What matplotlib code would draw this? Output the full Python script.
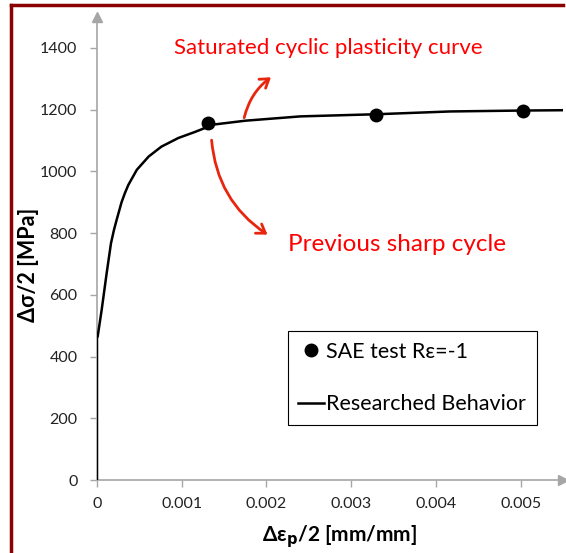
import matplotlib.pyplot as plt
from matplotlib.patches import FancyArrowPatch
from matplotlib.lines import Line2D

# SAE test points
sae_x = [0.00131, 0.00329, 0.00503]
sae_y = [1157, 1184, 1196]

# researched behaviour curve
curve_x = [0.0, 0.0, 0.000008, 0.000055, 0.000114, 0.000165, 0.000200, 0.000232, 0.00029,
           0.00033, 0.00037, 0.00047, 0.00061, 0.00076, 0.00096, 0.00116, 0.00127, 0.00133,
           0.00175, 0.0024, 0.0033, 0.00417, 0.00503, 0.0055]
curve_y = [0, 460, 465, 551, 670, 767, 810, 843, 900,
           930, 956, 1005, 1048, 1080, 1108, 1128, 1140, 1150,
           1164, 1178, 1185, 1194, 1197, 1198]

xticks = [0, 0.001, 0.002, 0.003, 0.004, 0.005]
xlabels = ['0', '0.001', '0.002', '0.003', '0.004', '0.005']
yticks = [0, 200, 400, 600, 800, 1000, 1200, 1400]

plt.rcParams['font.family'] = ['Lato', 'DejaVu Sans']

fig = plt.figure(figsize=(5.66, 5.53), dpi=100)
ax = fig.add_axes([97/566, 73/553, 466/566, 463/553])

gray = '#a6a6a6'
ax.plot(curve_x, curve_y, color='black', lw=1.8, zorder=3, solid_joinstyle='round')
ax.plot(sae_x, sae_y, 'o', color='black', ms=9, zorder=4)

ax.set_xlim(0, 0.0055)
ax.set_ylim(0, 1500)
ax.set_xticks(xticks)
ax.set_xticklabels(xlabels)
ax.set_yticks(yticks)
for s in ['top', 'right']:
    ax.spines[s].set_visible(False)
for s in ['left', 'bottom']:
    ax.spines[s].set_color(gray)
    ax.spines[s].set_linewidth(1.2)
ax.tick_params(colors=gray, labelcolor='#222222', labelsize=11.5, length=5, width=1)
ax.tick_params(axis='x', pad=7)
ax.tick_params(axis='y', pad=9)

# arrow heads on the axes
ax.plot(1, 0, '>', color=gray, ms=7, transform=ax.transAxes, clip_on=False)
ax.plot(0, 1, '^', color=gray, ms=7, transform=ax.transAxes, clip_on=False)

ax.set_ylabel('\u0394\u03c3/2 [MPa]', fontsize=15.5, fontweight='bold')
ax.yaxis.set_label_coords(-0.125, 0.465)
ax.set_xlabel('\u0394\u03b5$_\\mathbf{p}$/2 [mm/mm]', fontsize=15, fontweight='bold')
ax.xaxis.set_label_coords(0.52, -0.093)

handles = [Line2D([], [], marker='o', color='black', ls='none', ms=9),
           Line2D([], [], color='black', lw=1.8)]
leg = ax.legend(handles, ['SAE test R\u03b5=-1', 'Researched Behavior'],
                loc='lower right', bbox_to_anchor=(0.944, 0.119), fontsize=15.5,
                fancybox=False, edgecolor='black', framealpha=1,
                handlelength=1.2, handletextpad=0.1, labelspacing=1.5,
                borderpad=0.5, borderaxespad=0)
leg.get_frame().set_linewidth(0.8)

# annotations
red = '#ff0000'
ax.text(0.00091, 1400, 'Saturated cyclic plasticity curve', color=red, fontsize=16,
        va='center', ha='left')
ax.text(0.00226, 762, 'Previous sharp cycle', color=red, fontsize=17.5,
        va='center', ha='left')
arr = '#e8260e'
ax.add_patch(FancyArrowPatch((0.00173, 1165), (0.00208, 1310),
                             connectionstyle='arc3,rad=-0.2', arrowstyle='->,head_length=6,head_width=4',
                             color=arr, lw=2, zorder=5))
ax.add_patch(FancyArrowPatch((0.00135, 1110), (0.00204, 790),
                             connectionstyle='arc3,rad=0.25', arrowstyle='->,head_length=6,head_width=4',
                             color=arr, lw=2, zorder=5))

# dark red frame around the figure (cropped right and bottom)
frame = '#8b0000'
fig.add_artist(Line2D([11/566, 563/566], [1 - 5/553, 1 - 5/553], color=frame, lw=2.5,
                      transform=fig.transFigure))
fig.add_artist(Line2D([11/566, 11/566], [0, 1 - 5/553], color=frame, lw=2.5,
                      transform=fig.transFigure))

plt.savefig('out.png', dpi=100)
